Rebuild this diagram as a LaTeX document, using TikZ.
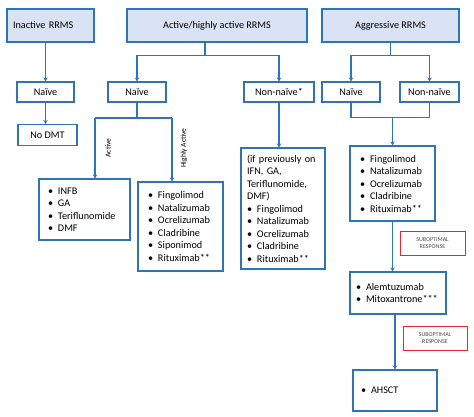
\documentclass[tikz,border=0pt]{standalone}
\usepackage{fontspec}
\setmainfont{Carlito}
\usetikzlibrary{arrows.meta,positioning,calc}
\definecolor{boxblue}{HTML}{2E75B6}
\definecolor{topfill}{HTML}{DAE3F3}
\definecolor{subred}{HTML}{E8262B}
\newcommand{\drug}[1]{\makebox[10pt][l]{\textbullet}#1}

\begin{document}
\begin{tikzpicture}[x=1pt,y=-1pt,
    box/.style={draw=boxblue, line width=1.1pt, inner sep=0pt, font=\fontsize{10.2}{12.5}\selectfont},
    topbox/.style={box, fill=topfill, minimum height=33pt},
    stagebox/.style={box, minimum height=20pt},
    listbox/.style={box, align=left},
    subbox/.style={draw=subred, line width=1pt, fill=white, align=center, text=black!70, minimum height=24pt, inner sep=0pt, font=\fontsize{6}{7.5}\selectfont},
    link/.style={draw=boxblue, line width=1.8pt},
    arr/.style={link, -{Stealth[length=4pt,width=4.5pt]}},
    branch/.style={font=\fontsize{7.5}{9}\selectfont, rotate=90}]

        \useasboundingbox (0,0) rectangle (474,416);

        % Disease types
        \node[topbox, text width=75pt, inner xsep=6pt, align=left] (inact) at (50.5,25.5) {Inactive RRMS};
        \node[topbox, minimum width=180pt] (act) at (217,25.5) {Active/highly active RRMS};
        \node[topbox, minimum width=137pt] (aggr) at (390.5,25.5) {Aggressive RRMS};

        % Treatment status
        \node[stagebox, minimum width=57pt] (naiveA) at (45.5,92) {Naïve};
        \node[stagebox, minimum width=59pt, minimum height=21pt] (nodmt) at (47.5,135) {No DMT};
        \node[stagebox, minimum width=58pt] (naiveB) at (137,92) {Naïve};
        \node[stagebox, minimum width=70pt] (nonnaiveB) at (279,92) {Non-naïve*};
        \node[stagebox, minimum width=58pt] (naiveC) at (351,92) {Naïve};
        \node[stagebox, minimum width=59pt] (nonnaiveC) at (429.5,92) {Non-naïve};

        % Drug lists
        \node[listbox, text width=73pt, inner xsep=9pt, minimum height=61pt] (list1) at (84.5,209.5)
            {\drug{INFB}\\\drug{GA}\\\drug{Teriflunomide}\\\drug{DMF}};
        \node[listbox, text width=65pt, inner xsep=10pt, minimum height=89pt] (list2) at (180.5,226.5)
            {\drug{Fingolimod}\\\drug{Natalizumab}\\\drug{Ocrelizumab}\\\drug{Cladribine}\\\drug{Siponimod}\\\drug{Rituximab**}};
        \node[listbox, text width=72pt, inner xsep=6pt, minimum height=121pt] (list3) at (283,208.5)
            {\mbox{(if previously on}\\IFN, GA,\\Teriflunomide,\\DMF)\\\drug{Fingolimod}\\\drug{Natalizumab}\\\drug{Ocrelizumab}\\\drug{Cladribine}\\\drug{Rituximab**}};
        \node[listbox, text width=65pt, inner xsep=10pt, minimum height=75pt] (list4) at (392.5,183.5)
            {\drug{Fingolimod}\\\drug{Natalizumab}\\\drug{Ocrelizumab}\\\drug{Cladribine}\\\drug{Rituximab**}};
        \node[listbox, text width=84pt, inner xsep=6pt, minimum height=42pt] (alem) at (398,293)
            {\drug{Alemtuzumab}\\\drug{Mitoxantrone***}};
        \node[listbox, text width=68pt, inner xsep=8pt, minimum height=41pt] (ahsct) at (395,390.5)
            {\drug{AHSCT}};

        % Response notes
        \node[subbox, minimum width=65pt] (sub1) at (432.5,243) {SUBOPTIMAL\\RESPONSE};
        \node[subbox, minimum width=64pt] (sub2) at (435,338) {SUBOPTIMAL\\RESPONSE};

        % Branch labels
        \node[branch] (lblA) at (108,148) {Active};
        \node[branch] (lblB) at (184,148) {Highly Active};

        % Connectors
        \draw[arr] (naiveA.north |- inact.south) -- (naiveA.north);
        \draw[arr] (naiveA.south) -- (naiveA.south |- nodmt.north);

        \coordinate (actS) at ($(act.south)+(-12,0)$);
        \draw[link] (actS) -- ++(0,13) coordinate (actJ);
        \draw[arr] (actJ) -| (naiveB.north);
        \draw[arr] (actJ) -| (nonnaiveB.north);

        \draw[link] (aggr.south) -- ++(0,13) coordinate (aggrJ);
        \draw[arr] (aggrJ) -| (naiveC.north);
        \draw[arr] (aggrJ) -| (nonnaiveC.north);

        \coordinate (brL) at (95,118);
        \coordinate (brR) at (172,118);
        \draw[link] (naiveB.south) -- (naiveB.south |- brL);
        \draw[link] (brL) -- (brR);
        \draw[arr] (brL) -- (brL |- list1.north);
        \draw[arr] (brR) -- (brR |- list2.north);

        \draw[arr] (nonnaiveB.south) -- (nonnaiveB.south |- list3.north);

        \coordinate (mergeJ) at ($(list4.north)+(0,-28)$);
        \draw[link] (naiveC.south) -- (naiveC.south |- mergeJ) -| (nonnaiveC.south);
        \draw[arr] (mergeJ) -- (list4.north);

        \draw[arr] (list4.south) -- (list4.south |- alem.north);
        \draw[arr] (ahsct.north |- alem.south) -- (ahsct.north);
    \end{tikzpicture}
\end{document}
